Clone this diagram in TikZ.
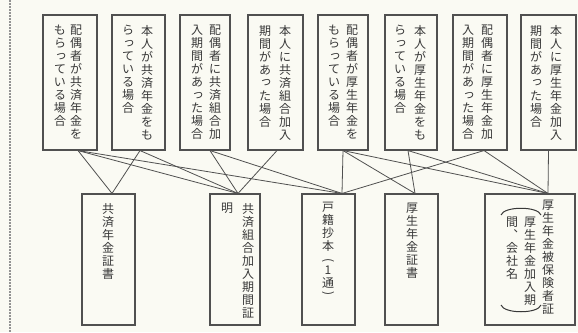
\documentclass[tikz,border=0pt]{standalone}
\usepackage{fontspec}
\newfontfamily\jp{Noto Sans CJK JP}
\definecolor{bg}{HTML}{FAFAF3}
\definecolor{ink}{HTML}{505050}
\definecolor{txt}{HTML}{383838}
\newcommand\skt[1]{\hspace*{0.2em}\raisebox{0.12em}{#1}}
\tikzset{
  box/.style={draw=ink, line width=1.1pt, inner sep=0pt},
  col/.style={font=\jp\fontsize{12}{13}\selectfont, text=txt, align=center, inner sep=0pt, anchor=north},
  vpar/.style={font=\jp\fontsize{12}{13}\selectfont, text=txt, inner sep=0pt, anchor=center, rotate=-90},
  bracket/.style={draw=txt, line width=1pt},
  link/.style={draw=ink, line width=0.8pt},
}
\begin{document}
\begin{tikzpicture}[x=1pt,y=-1pt]
\useasboundingbox[fill=bg] (0,0) rectangle (578,332);
\draw[line width=2.6pt, draw=gray!85, dash pattern=on 2.2pt off 0.8pt] (10,0) -- (10,332);

% top boxes
\node[box, minimum width=54pt, minimum height=135pt] (b1) at (70,82.5) {};
\node[box, minimum width=53pt, minimum height=135pt] (b2) at (138.5,82.5) {};
\node[box, minimum width=50pt, minimum height=135pt] (b3) at (205,82.5) {};
\node[box, minimum width=55pt, minimum height=135pt] (b4) at (275.5,82.5) {};
\node[box, minimum width=50pt, minimum height=135pt] (b5) at (343,82.5) {};
\node[box, minimum width=52pt, minimum height=135pt] (b6) at (411,82.5) {};
\node[box, minimum width=54pt, minimum height=135pt] (b7) at (480,82.5) {};
\node[box, minimum width=55pt, minimum height=135pt] (b8) at (548.5,82.5) {};

% bottom boxes
\node[box, minimum width=53pt, minimum height=131pt] (A) at (108.5,259.5) {};
\node[box, minimum width=50pt, minimum height=131pt] (B) at (235,259.5) {};
\node[box, minimum width=53pt, minimum height=131pt] (C) at (328.5,259.5) {};
\node[box, minimum width=53pt, minimum height=131pt] (D) at (411.5,259.5) {};
\node[box, minimum width=90pt, minimum height=131pt] (E) at (530,259.5) {};

% top texts
\node[col] (t1r) at (76,25) {配\\偶\\者\\が\\共\\済\\年\\金\\を};
\node[col] (t1l) at (60,25) {も\\ら\\\skt{っ}\\て\\い\\る\\場\\合};
\node[col] (t2r) at (147,25) {本\\人\\が\\共\\済\\年\\金\\を\\も};
\node[col] (t2l) at (128,25) {ら\\\skt{っ}\\て\\い\\る\\場\\合};
\node[col] (t3r) at (215,25) {配\\偶\\者\\に\\共\\済\\組\\合\\加};
\node[col] (t3l) at (197,25) {入\\期\\間\\が\\あ\\\skt{っ}\\た\\場\\合};
\node[col] (t4r) at (285,25) {本\\人\\に\\共\\済\\組\\合\\加\\入};
\node[col] (t4l) at (265,25) {期\\間\\が\\あ\\\skt{っ}\\た\\場\\合};
\node[col] (t5r) at (352,25) {配\\偶\\者\\が\\厚\\生\\年\\金\\を};
\node[col] (t5l) at (334,25) {も\\ら\\\skt{っ}\\て\\い\\る\\場\\合};
\node[col] (t6r) at (420,25) {本\\人\\が\\厚\\生\\年\\金\\を\\も};
\node[col] (t6l) at (400,25) {ら\\\skt{っ}\\て\\い\\る\\場\\合};
\node[col] (t7r) at (487,25) {配\\偶\\者\\に\\厚\\生\\年\\金\\加};
\node[col] (t7l) at (468,25) {入\\期\\間\\が\\あ\\\skt{っ}\\た\\場\\合};
\node[col] (t8r) at (556,25) {本\\人\\に\\厚\\生\\年\\金\\加\\入};
\node[col] (t8l) at (536,25) {期\\間\\が\\あ\\\skt{っ}\\た\\場\\合};

% bottom texts
\node[col] (tA) at (108,203) {共\\済\\年\\金\\証\\書};
\node[col] (tBr) at (248,203) {共\\済\\組\\合\\加\\入\\期\\間\\証};
\node[col] (tBl) at (227,203) {明};
\node[col] (tC1) at (328,202) {戸\\籍\\抄\\本};
\node[vpar] (tCo) at (328,261) {(};
\node[col] (tC2) at (328,266) {1\\通};
\node[vpar] (tCc) at (328,294) {)};
\node[col] (tD) at (412,203) {厚\\生\\年\\金\\証\\書};
\node[col] (tEr) at (548,200) {厚\\生\\年\\金\\被\\保\\険\\者\\証};
\node[col] (tEm) at (530,217) {厚\\生\\年\\金\\加\\入\\期};
\node[col] (tEl) at (512,217) {間\\︑\\会\\社\\名};
\draw[bracket] (501,215) .. controls (504,206) and (538,206) .. (541,215);
\draw[bracket] (501,305) .. controls (504,314) and (538,314) .. (541,305);

% connection points
\coordinate (b1o) at ([xshift=8pt]b1.south);
\coordinate (b2o) at ([xshift=1.5pt]b2.south);
\coordinate (b3o) at ([xshift=5pt]b3.south);
\coordinate (b4o) at ([xshift=1.5pt]b4.south);
\coordinate (b5o) at (b5.south);
\coordinate (b6o) at ([xshift=-3pt]b6.south);
\coordinate (b7o) at ([xshift=4pt]b7.south);
\coordinate (b8o) at (b8.south);
\coordinate (Ai) at ([xshift=3.5pt]A.north);
\coordinate (Bi) at ([xshift=3pt]B.north);
\coordinate (Ci) at ([xshift=13.5pt]C.north);
\coordinate (Di) at ([xshift=3.5pt]D.north);
\coordinate (Ei) at ([xshift=18pt]E.north);

% links
\draw[link] (b1o) -- (Ai);
\draw[link] (b1o) -- (Bi);
\draw[link] (b1o) -- (Ci);
\draw[link] (b2o) -- (Ai);
\draw[link] (b2o) -- (Bi);
\draw[link] (b3o) -- (Bi);
\draw[link] (b3o) -- (Ci);
\draw[link] (b4o) -- (Bi);
\draw[link] (b5o) -- (Ci);
\draw[link] (b5o) -- (Di);
\draw[link] (b5o) -- (Ei);
\draw[link] (b6o) -- (Di);
\draw[link] (b6o) -- (Ei);
\draw[link] (b7o) -- (Ci);
\draw[link] (b7o) -- (Ei);
\draw[link] (b8o) -- (Ei);
\end{tikzpicture}
\end{document}
